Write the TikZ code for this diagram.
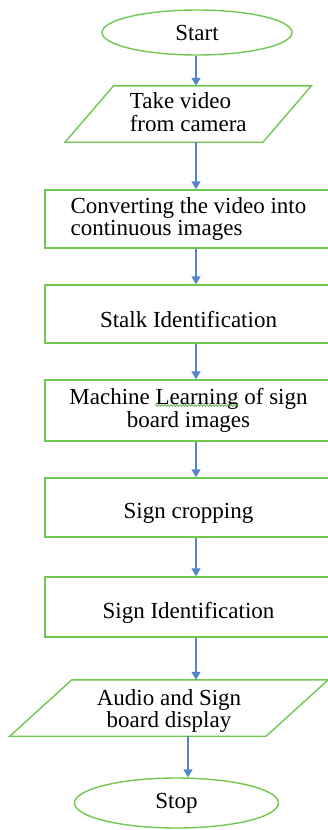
\documentclass[tikz,border=0pt]{standalone}
\usepackage{fontspec}
\setmainfont{Liberation Serif}
\usetikzlibrary{shapes.geometric,arrows.meta,decorations.pathmorphing}
\definecolor{gline}{RGB}{112,200,80}
\definecolor{barrow}{RGB}{84,134,206}
\newcommand{\lowr}[1]{\raisebox{-6pt}[\height][\depth]{#1}}
\begin{document}
\begin{tikzpicture}[x=1pt,y=-1pt,
  every node/.style={font=\fontsize{23}{22.5}\selectfont, inner sep=0pt},
  term/.style={ellipse, draw=gline, line width=1.4pt},
  procbox/.style={rectangle, draw=gline, line width=1.4pt, minimum width=287pt, align=center},
  iobox/.style={rectangle, draw=none, align=center},
  arr/.style={draw=barrow, line width=1.4pt, -{Triangle[length=8pt,width=9pt]}},
  pgram/.style={draw=gline, line width=1.4pt},
  squig/.style={draw=gline!80!black, line width=0.6pt, decorate, decoration={snake, amplitude=1pt, segment length=3pt}}
]
\useasboundingbox (0,0) rectangle (328,830);
\fill[white] (0,0) rectangle (328,830);

\node[term, minimum width=190pt, minimum height=45pt] (start) at (197,32.5) {Start};

\node[iobox, minimum width=197.5pt, minimum height=56pt] (take) at (188.25,114) {\raisebox{2pt}[\height][\depth]{\shortstack[l]{Take video\\[4pt]from camera}}};
\draw[pgram] ([xshift=24.25pt]take.north west) -- ([xshift=24.25pt]take.north east)
  -- ([xshift=-24.25pt]take.south east) -- ([xshift=-24.25pt]take.south west) -- cycle;

\node[procbox, minimum height=58pt, align=left] (conv) at (188.5,219) {Converting the video into\\continuous images};
\node[procbox, minimum height=58pt] (stalk) at (188.5,314) {\lowr{Stalk Identification}};
\node[procbox, minimum height=61pt] (ml) at (188.5,410.5) {Machine Learning of sign\\board images};
\node[procbox, minimum height=59pt] (crop) at (188.5,507.5) {\lowr{Sign cropping}};
\node[procbox, minimum height=60pt] (signid) at (188.5,607) {\lowr{Sign Identification}};

\node[iobox, minimum width=256pt, minimum height=56pt] (audio) at (169,708) {\raisebox{-3pt}[\height][\depth]{\shortstack{Audio and Sign\\[-2pt]board display}}};
\draw[pgram] ([xshift=31pt]audio.north west) -- ([xshift=31pt]audio.north east)
  -- ([xshift=-31pt]audio.south east) -- ([xshift=-31pt]audio.south west) -- cycle;

\node[term, minimum width=204pt, minimum height=50pt] (stop) at (176.5,803) {Stop};

\coordinate (ax) at (196,0);
\coordinate (bx) at (188,0);
\coordinate (sq1) at (155,405.5);
\coordinate (sq2) at (238,405.5);

\draw[arr] (start.south -| ax) -- (take.north -| ax);
\draw[arr] (take.south -| ax) -- (conv.north -| ax);
\draw[arr] (conv.south -| ax) -- (stalk.north -| ax);
\draw[arr] (stalk.south -| ax) -- (ml.north -| ax);
\draw[arr] (ml.south -| ax) -- (crop.north -| ax);
\draw[arr] (crop.south -| ax) -- (signid.north -| ax);
\draw[arr] (signid.south -| ax) -- (audio.north -| ax);
\draw[arr] (audio.south -| bx) -- (stop.north -| bx);

\draw[squig] (sq1) -- (sq2);
\end{tikzpicture}
\end{document}
